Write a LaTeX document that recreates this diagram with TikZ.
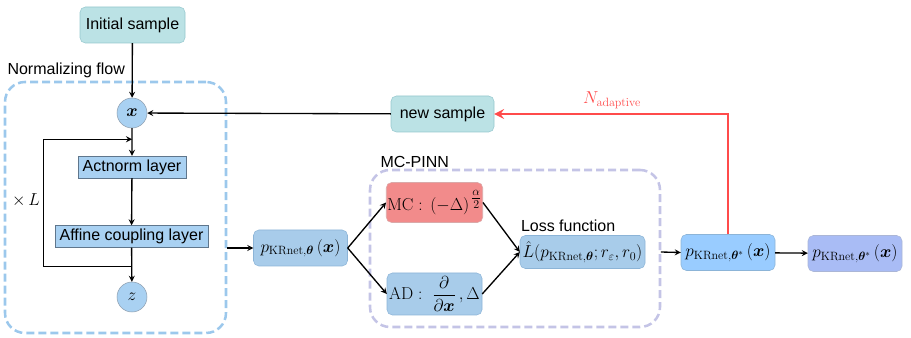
\documentclass[tikz,border=0pt]{standalone}
\usepackage{amsmath}
\usepackage{amssymb}
\usepackage{bm}
\usepackage[no-math]{fontspec}
\setmainfont{Liberation Sans}
\usepackage{tikz}
\usetikzlibrary{arrows,shapes,positioning,calc}
\usepackage{xcolor}
\definecolor{nfteal}{RGB}{187,226,229}
\definecolor{nftealline}{RGB}{150,200,206}
\definecolor{nfblue}{RGB}{169,209,242}
\definecolor{nfbluedark}{RGB}{95,118,140}
\definecolor{pkblue}{RGB}{168,204,234}
\definecolor{pkline}{RGB}{140,180,215}
\definecolor{starblue}{RGB}{153,204,255}
\definecolor{finblue}{RGB}{169,188,245}
\definecolor{mcred}{RGB}{242,139,139}
\definecolor{flowdash}{RGB}{156,200,236}
\definecolor{pinndash}{RGB}{196,196,230}
\definecolor{adared}{RGB}{255,75,75}
\tikzstyle{arrow} = [line width=1pt,-stealth,color=black]
\tikzstyle{samplebox} = [rectangle, rounded corners=4pt, minimum width=105pt, minimum height=36pt, draw=nftealline, fill=nfteal, text centered]
\tikzstyle{layerbox} = [rectangle, minimum height=22pt, draw=nfbluedark, fill=nfblue, text centered]
\tikzstyle{varnode} = [circle, minimum size=30pt, inner sep=0pt, draw=nfbluedark!70, fill=nfblue, font=\fontsize{17}{20}\selectfont]
\tikzstyle{densbox} = [rectangle, rounded corners=4pt, minimum width=94pt, minimum height=36pt, draw=pkline, fill=pkblue, inner sep=1pt, text centered, font=\fontsize{18}{21}\selectfont]
\tikzstyle{groupbox} = [rectangle, rounded corners=15pt, line width=1.9pt, dash pattern=on 6pt off 3pt]

\begin{document}
\begin{tikzpicture}[x=1pt, y=-1pt, scale=0.75, transform shape, font=\fontsize{16}{19}\selectfont]
\useasboundingbox (0,0) rectangle (911,338);
% groups
\node[groupbox, draw=flowdash, minimum width=221pt, minimum height=251pt] (nf) at (115.5,207.5) {};
\node[groupbox, draw=pinndash, minimum width=290pt, minimum height=157pt] (pinn) at (515,248.5) {};
\node[anchor=west] (nflabel) at (4,70) {Normalizing flow};
\node[anchor=west] (pinnlabel) at (377,162) {MC-PINN};
% normalizing flow column
\node[samplebox] (init) at (132.5,25) {Initial sample};
\node[varnode] (xin) at (132,113) {$\bm{x}$};
\node[layerbox, minimum width=108pt] (act) at (132,167) {Actnorm layer};
\node[layerbox, minimum width=153pt] (aff) at (131.5,236.5) {Affine coupling layer};
\node[varnode] (zout) at (132,297) {$z$};
\node[font=\fontsize{17}{20}\selectfont] (times) at (26,200) {$\times\, L$};
\coordinate (loopin) at ($(xin.south)!0.4!(act.north)$);
\coordinate (loopout) at ($(aff.south)!0.55!(zout.north)$);
% MC-PINN
\node[densbox] (pk) at (300.5,248) {$p_{\mathrm{KRnet},\bm{\theta}}\,(\bm{x})$};
\node[densbox, fill=mcred, draw=mcred!80!black!60, minimum width=95pt, minimum height=40pt] (mc) at (434.5,202.5) {$\mathrm{MC}:\,(-\Delta)^{\,\tfrac{\alpha}{2}}$};
\node[densbox, minimum width=95pt, minimum height=42pt] (ad) at (434.5,294) {$\mathrm{AD}:\ \dfrac{\partial}{\partial\bm{x}}\,,\Delta$};
\node[densbox, minimum width=125pt, minimum height=33pt, font=\fontsize{17}{20}\selectfont] (loss) at (582.5,252) {$\hat{L}(p_{\mathrm{KRnet},\bm{\theta}};r_{\varepsilon},r_0)$};
\node[above=2pt of loss.north west, anchor=south west, inner sep=1pt] (losslabel) {Loss function};
% outputs
\node[densbox, fill=starblue, draw=pkline] (pstar) at (728,252.5) {$p_{\mathrm{KRnet},\bm{\theta}^{*}}\,(\bm{x})$};
\node[densbox, fill=finblue, draw=finblue!80!black!70] (pfin) at (855,253.5) {$p_{\mathrm{KRnet},\bm{\theta}^{*}}\,(\bm{x})$};
\node[samplebox, minimum width=103pt] (newsamp) at (442.5,114) {new sample};
\node[text=adared, font=\fontsize{18}{21}\selectfont] (nadapt) at (612,100) {$N_{\mathrm{adaptive}}$};
% connectors
\draw[arrow] (init) -- (xin);
\draw[arrow] (newsamp) -- (xin);
\draw[arrow] (xin) -- (act);
\draw[arrow] (act) -- (aff);
\draw[arrow] (aff) -- (zout);
\draw[arrow] (loopout) -| (times.east |- loopin) -- (loopin);
\draw[arrow] (nf.east |- pk.west) -- (pk.west);
\draw[arrow] (pk.east) -- (mc.west);
\draw[arrow] (pk.east) -- (ad.west);
\draw[arrow] (mc.east) -- (loss.west);
\draw[arrow] (ad.east) -- (loss.west);
\draw[arrow] (pinn.east |- loss.east) -- (pstar.west);
\draw[arrow] (pstar) -- (pfin);
\draw[-stealth, line width=2.2pt, color=adared] (pstar.north) |- (newsamp.east);
\end{tikzpicture}
\end{document}
